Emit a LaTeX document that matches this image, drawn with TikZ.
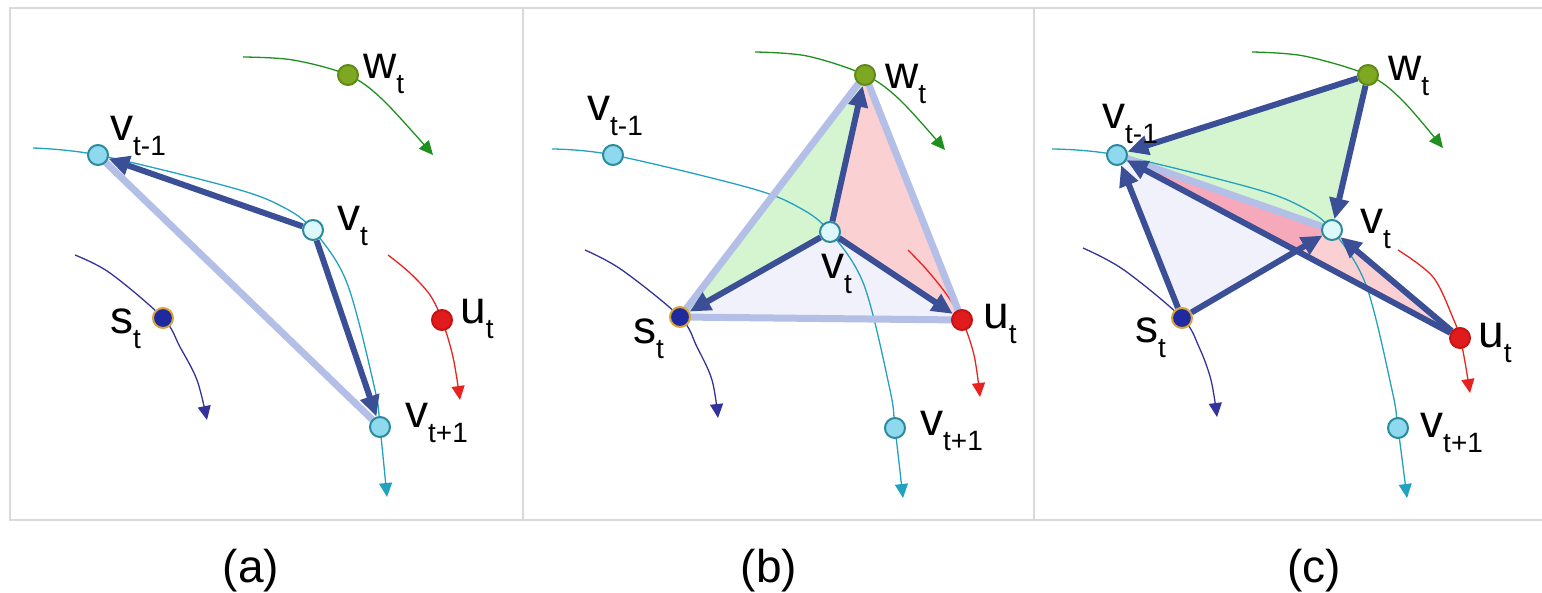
\documentclass[tikz,border=0pt]{standalone}
\usepackage{fontspec}
\setmainfont{Liberation Sans}
\usetikzlibrary{arrows.meta,backgrounds}
\definecolor{greenfill}{HTML}{D5F5D0}
\definecolor{pinkfill}{HTML}{FBD0D2}
\definecolor{deeppink}{HTML}{F5A9BB}
\definecolor{lavfill}{HTML}{F1F1FB}
\definecolor{lightb}{HTML}{B3BFE6}
\definecolor{darkb}{HTML}{3B4F97}
\definecolor{vfill}{HTML}{8FD9EE}
\definecolor{vline}{HTML}{2A8A9E}
\definecolor{vtfill}{HTML}{DCF8FB}
\definecolor{wfill}{HTML}{7EA822}
\definecolor{wline}{HTML}{5F8A18}
\definecolor{sfill}{HTML}{1F2A9E}
\definecolor{sline}{HTML}{D9A43A}
\definecolor{ufill}{HTML}{E01B1B}
\definecolor{uline}{HTML}{C41414}
\definecolor{tgreen}{HTML}{1F8F1F}
\definecolor{tteal}{HTML}{22A2BF}
\definecolor{tpurple}{HTML}{34339A}
\definecolor{tred}{HTML}{E8231F}
\definecolor{framec}{HTML}{DADADA}
\newcommand{\lab}[2]{#1\raisebox{-15pt}{\fontsize{28}{30}\selectfont #2}}
\tikzset{
  pt/.style={circle, minimum size=20pt, inner sep=0pt, line width=2pt},
  vnode/.style={pt, fill=vfill, draw=vline},
  vtnode/.style={pt, fill=vtfill, draw=vline},
  wnode/.style={pt, fill=wfill, draw=wline},
  snode/.style={pt, fill=sfill, draw=sline},
  unode/.style={pt, fill=ufill, draw=uline},
  traj/.style={line width=1.3pt, -{Triangle[length=14pt,width=13pt]}},
  bigarrow/.style={line width=6pt, draw=darkb, -{Triangle[length=21pt,width=19pt]}},
  lightline/.style={line width=7pt, draw=lightb, line join=round, line cap=round},
  lbl/.style={anchor=base west, inner sep=0pt, font=\fontsize{46}{50}\selectfont},
  captext/.style={anchor=base, inner sep=0pt, font=\fontsize{46}{50}\selectfont},
}
\begin{document}
\begin{tikzpicture}[x=1pt, y=-1pt]
\useasboundingbox (0,0) rectangle (1542,592);
% frame
\draw[framec, line width=1.5pt] (1542,8) -- (10,8) -- (10,520) -- (1542,520);
\draw[framec, line width=1.5pt] (523,8) -- (523,520);
\draw[framec, line width=1.5pt] (1034,8) -- (1034,520);

% ================= panel (a)
\begin{scope}
\node[wnode] (a-w) at (348,75) {};
\node[vnode] (a-vm) at (98,155) {};
\node[vtnode] (a-vt) at (313,230) {};
\node[snode] (a-s) at (163,318) {};
\node[unode] (a-u) at (442,320) {};
\node[vnode] (a-vp) at (380,427) {};
\begin{scope}[on background layer]
\draw[traj, tgreen] plot[smooth, tension=0.55] coordinates {(243,57) (293,60) (a-w.center) (383,100) (433,155)};
\draw[traj, tteal] plot[smooth, tension=0.55] coordinates {(33,148) (a-vm.center) (233,188) (283,207) (a-vt.center) (347,283) (375,390) (a-vp.center) (387,497)};
\draw[traj, tpurple] plot[smooth, tension=0.55] coordinates {(75,255) (110,273) (a-s.center) (180,347) (197,380) (207,420)};
\draw[traj, tred] plot[smooth, tension=0.55] coordinates {(388,255) (410,273) (430,295) (a-u.center) (453,357) (460,400)};
\draw[lightline] (a-vm.center) -- (a-vp.center);
\end{scope}
\draw[bigarrow] (a-vt) -- (a-vm);
\draw[bigarrow] (a-vt) -- (a-vp);
\node[lbl] (a-lw) at (363,78) {\lab{w}{t}};
\node[lbl] (a-lvm) at (110,140) {\lab{v}{t-1}};
\node[lbl] (a-lvt) at (337,230) {\lab{v}{t}};
\node[lbl] (a-ls) at (110,333) {\lab{s}{t}};
\node[lbl] (a-lu) at (460,323) {\lab{u}{t}};
\node[lbl] (a-lvp) at (405,427) {\lab{v}{t+1}};
\node[captext] (a-cap) at (251,582) {(a)};
\end{scope}

% ================= panel (b)
\begin{scope}[xshift=517pt]
\node[wnode] (b-w) at (348,75) {};
\node[vnode] (b-vm) at (96,155) {};
\node[vtnode] (b-vt) at (313,232) {};
\node[snode] (b-s) at (163,317) {};
\node[unode] (b-u) at (445,320) {};
\node[vnode] (b-vp) at (378,428) {};
\begin{scope}[on background layer]
\fill[greenfill] (b-s.center) -- (b-vt.center) -- (b-w.center) -- cycle;
\fill[pinkfill] (b-vt.center) -- (b-w.center) -- (b-u.center) -- cycle;
\fill[lavfill] (b-s.center) -- (b-vt.center) -- (b-u.center) -- cycle;
\draw[traj, tgreen] plot[smooth, tension=0.55] coordinates {(238,52) (290,56) (b-w.center) (383,100) (428,150)};
\draw[traj, tteal] plot[smooth, tension=0.55] coordinates {(35,149) (b-vm.center) (233,188) (283,208) (b-vt.center) (347,285) (373,390) (b-vp.center) (386,498)};
\draw[traj, tpurple] plot[smooth, tension=0.55] coordinates {(68,250) (105,270) (b-s.center) (180,347) (195,380) (201,418)};
\draw[traj, tred] plot[smooth, tension=0.55] coordinates {(391,250) (410,270) (430,295) (b-u.center) (457,355) (463,397)};
\draw[lightline] (b-s.center) -- (b-w.center) -- (b-u.center) -- cycle;
\end{scope}
\draw[bigarrow] (b-vt) -- (b-w);
\draw[bigarrow] (b-vt) -- (b-s);
\draw[bigarrow] (b-vt) -- (b-u);
\end{scope}
\node[lbl] (b-lw) at (885,88) {\lab{w}{t}};
\node[lbl] (b-lvm) at (587,120) {\lab{v}{t-1}};
\node[lbl] (b-lvt) at (821,278) {\lab{v}{t}};
\node[lbl] (b-ls) at (633,343) {\lab{s}{t}};
\node[lbl] (b-lu) at (983,328) {\lab{u}{t}};
\node[lbl] (b-lvp) at (920,435) {\lab{v}{t+1}};
\node[captext] (b-cap) at (769,582) {(b)};

% ================= panel (c)
\begin{scope}[xshift=1019pt]
\node[wnode] (c-w) at (349,75) {};
\node[vnode] (c-vm) at (98,155) {};
\node[vtnode] (c-vt) at (313,230) {};
\node[snode] (c-s) at (163,318) {};
\node[unode] (c-u) at (441,338) {};
\node[vnode] (c-vp) at (379,428) {};
\begin{scope}[on background layer]
\fill[lavfill] (c-vm.center) -- (c-s.center) -- (c-vt.center) -- cycle;
\fill[pinkfill] (c-vm.center) -- (c-vt.center) -- (c-u.center) -- cycle;
\fill[deeppink] (c-vm.center) -- (c-vt.center) -- (intersection of c-s.center--c-vt.center and c-vm.center--c-u.center) -- cycle;
\fill[greenfill] (c-w.center) -- (c-vm.center) -- (c-vt.center) -- cycle;
\draw[traj, tgreen] plot[smooth, tension=0.55] coordinates {(233,52) (285,56) (c-w.center) (383,100) (424,148)};
\draw[traj, tteal] plot[smooth, tension=0.55] coordinates {(33,149) (c-vm.center) (233,188) (283,207) (c-vt.center) (347,285) (373,390) (c-vp.center) (388,498)};
\draw[traj, tpurple] plot[smooth, tension=0.55] coordinates {(64,248) (105,270) (c-s.center) (180,347) (192,380) (198,417)};
\draw[traj, tred] plot[smooth, tension=0.55] coordinates {(379,250) (414,277) (434,318) (c-u.center) (446,362) (451,393)};
\draw[lightline] (c-vm.center) -- (c-vt.center);
\end{scope}
\draw[bigarrow] (c-w) -- (c-vm);
\draw[bigarrow] (c-w) -- (c-vt);
\draw[bigarrow] (c-s) -- (c-vm);
\draw[bigarrow] (c-s) -- (c-vt);
\draw[bigarrow] (c-u) -- (c-vm);
\draw[bigarrow] (c-u) -- (c-vt);
\end{scope}
\node[lbl] (c-lw) at (1388,80) {\lab{w}{t}};
\node[lbl] (c-lvm) at (1102,128) {\lab{v}{t-1}};
\node[lbl] (c-lvt) at (1360,233) {\lab{v}{t}};
\node[lbl] (c-ls) at (1135,342) {\lab{s}{t}};
\node[lbl] (c-lu) at (1478,347) {\lab{u}{t}};
\node[lbl] (c-lvp) at (1420,437) {\lab{v}{t+1}};
\node[captext] (c-cap) at (1314,582) {(c)};
\end{tikzpicture}
\end{document}
